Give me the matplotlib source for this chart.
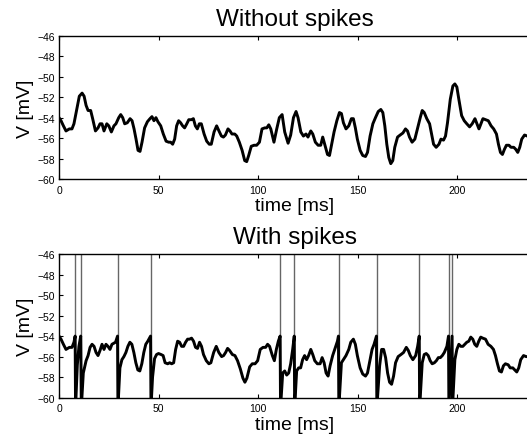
import matplotlib
matplotlib.use('Agg')
import matplotlib.pyplot as plt

plt.rcParams['font.family'] = ['Liberation Sans', 'DejaVu Sans']

# membrane potential without spiking, (time [ms], V [mV])
quiet_trace = [
    (0.0,-54.0),(1.0,-54.3),(2.2,-54.8),(3.5,-55.3),(5.2,-55.1),(6.5,-55.1),(7.5,-54.6),(8.9,-53.2),
    (10.2,-51.9),(11.6,-51.6),(12.6,-51.9),(13.6,-52.8),(14.6,-53.3),(15.9,-53.3),(16.9,-54.1),(18.3,-55.3),
    (19.6,-55.0),(20.6,-54.6),(21.6,-54.6),(22.6,-55.3),(24.0,-54.6),(25.0,-54.8),(26.3,-55.4),(27.6,-54.8),
    (28.6,-54.6),(30.0,-54.0),(31.0,-53.7),(32.0,-54.0),(33.0,-54.6),(34.3,-54.5),(35.7,-54.1),(36.7,-54.3),
    (37.7,-55.1),(38.7,-56.1),(39.7,-57.2),(40.7,-57.3),(41.7,-56.4),(43.0,-55.0),(44.4,-54.4),(45.7,-54.1),
    (46.7,-53.9),(47.7,-54.3),(48.7,-54.0),(49.7,-54.4),(51.1,-54.8),(52.4,-55.6),(53.8,-56.3),(55.1,-56.4),
    (56.1,-56.4),(57.1,-56.6),(58.1,-56.1),(59.1,-54.8),(60.1,-54.3),(61.1,-54.5),(62.1,-54.8),(63.1,-55.0),
    (64.2,-54.6),(65.2,-54.2),(66.5,-54.2),(67.5,-54.1),(68.5,-54.8),(69.5,-55.1),(70.5,-54.6),(71.5,-54.6),
    (72.9,-55.6),(74.2,-56.3),(75.5,-56.6),(76.5,-56.6),(77.9,-55.4),(79.2,-54.8),(80.6,-55.4),(81.6,-55.8),
    (82.6,-55.9),(83.6,-55.7),(84.9,-55.1),(85.9,-55.3),(86.9,-55.6),(88.3,-55.6),(89.3,-55.8),(90.6,-56.4),
    (92.0,-57.2),(93.3,-58.2),(94.3,-58.3),(95.3,-57.7),(96.6,-56.8),(98.0,-56.7),(99.3,-56.7),(100.7,-56.4),
    (102.0,-55.1),(103.4,-55.0),(104.4,-55.0),(105.4,-54.7),(106.4,-55.1),(108.0,-56.4),(109.4,-55.1),(110.7,-54.0),
    (112.1,-53.7),(113.4,-55.4),(115.1,-56.5),(116.4,-55.7),(117.8,-54.0),(119.1,-53.4),(120.1,-54.0),(121.5,-55.4),
    (122.8,-55.8),(124.1,-55.6),(125.1,-55.9),(126.5,-55.3),(127.5,-55.6),(128.8,-56.4),(130.2,-56.7),(131.5,-56.7),
    (132.5,-55.9),(133.5,-56.6),(134.9,-57.6),(135.9,-57.7),(136.9,-56.7),(138.2,-55.4),(139.6,-54.3),(140.9,-53.5),
    (141.9,-53.6),(142.9,-54.5),(144.2,-55.1),(145.6,-54.8),(146.9,-54.1),(147.9,-54.1),(148.9,-55.0),(149.9,-56.1),
    (151.3,-57.2),(152.6,-57.7),(154.0,-57.8),(155.0,-57.4),(156.3,-55.8),(157.7,-54.6),(159.0,-54.0),(160.4,-53.4),
    (161.7,-53.2),(162.7,-53.5),(163.7,-54.8),(164.7,-56.6),(165.7,-57.9),(166.7,-58.5),(167.7,-58.2),(168.7,-56.9),
    (170.1,-55.9),(171.4,-55.7),(172.8,-55.5),(174.1,-55.1),(175.1,-55.3),(176.1,-55.9),(177.4,-56.4),(178.8,-56.1),
    (180.1,-55.1),(181.5,-54.0),(182.5,-53.3),(183.5,-53.5),(184.8,-54.1),(186.2,-54.6),(187.2,-55.6),(188.2,-56.6),
    (189.5,-56.9),(190.9,-56.6),(191.9,-56.1),(193.2,-56.2),(194.2,-55.8),(195.2,-54.5),(196.6,-52.2),(197.9,-50.9),
    (198.9,-50.7),(199.9,-51.0),(200.9,-52.2),(202.3,-53.8),(203.6,-54.3),(204.9,-54.6),(206.3,-54.9),(207.6,-54.6),
    (209.0,-54.1),(210.0,-54.6),(211.0,-55.1),(212.0,-54.6),(213.0,-54.1),(214.4,-54.2),(215.7,-54.3),(217.1,-54.8),
    (218.4,-55.1),(219.8,-55.6),(220.8,-56.6),(221.8,-57.4),(222.8,-57.6),(223.8,-57.1),(224.8,-56.7),(226.1,-56.7),
    (227.1,-56.9),(228.5,-56.9),(229.5,-57.1),(230.5,-57.4),(231.5,-56.9),(232.5,-56.1),(233.9,-55.7),(235.2,-55.8),
    (237.0,-55.9),
]

# membrane potential with threshold at -54 mV and reset below the axis
spiking_trace = [
    (0.0,-54.0),(1.0,-54.3),(2.2,-54.8),(3.5,-55.3),(5.2,-55.1),(6.5,-55.1),(7.5,-54.6),(8.1,-54.0),
    (8.3,-61.0),(9.2,-56.8),(10.0,-55.0),(10.9,-54.0),
    (11.2,-61.0),(12.2,-57.6),(13.6,-56.4),(14.6,-55.9),(15.6,-55.1),(16.6,-54.8),(17.6,-55.0),(18.6,-55.6),
    (19.6,-55.9),(20.6,-55.4),(21.6,-54.8),(22.6,-55.3),(23.6,-54.8),(24.6,-55.0),(25.6,-55.3),(26.6,-54.8),
    (28.4,-54.6),(29.4,-54.0),
    (29.6,-61.0),(30.6,-57.1),(31.6,-56.3),(32.6,-56.0),(33.6,-55.6),(34.6,-55.0),(35.6,-54.6),(36.6,-54.8),
    (37.6,-55.6),(38.6,-56.6),(39.6,-57.3),(40.6,-57.4),(41.6,-56.7),(42.6,-55.6),(43.6,-54.8),(44.6,-54.5),
    (46.0,-54.0),
    (46.2,-61.0),(47.0,-58.0),(48.0,-56.2),(49.0,-55.8),(50.0,-55.7),(51.3,-55.8),(52.3,-55.9),(53.3,-56.6),
    (54.6,-56.7),(55.6,-56.6),(56.6,-56.7),(57.6,-56.6),(58.6,-55.3),(59.6,-54.5),(60.6,-54.6),(61.6,-55.0),
    (62.6,-55.0),(63.6,-54.6),(64.6,-54.3),(65.6,-54.3),(66.6,-54.2),(67.6,-54.5),(68.6,-55.1),(69.6,-55.2),
    (70.6,-54.6),(71.6,-55.0),(72.6,-55.8),(74.0,-56.4),(75.3,-56.7),(76.3,-56.6),(77.7,-55.6),(79.0,-55.0),
    (80.3,-55.6),(81.7,-56.0),(82.7,-55.9),(83.7,-55.6),(84.7,-55.2),(85.7,-55.4),(87.1,-55.8),(88.4,-55.9),
    (89.7,-56.4),(91.1,-57.2),(92.4,-58.1),(93.4,-58.5),(94.4,-58.1),(95.8,-57.0),(97.1,-56.7),(98.5,-56.7),
    (99.8,-56.4),(101.1,-55.3),(102.5,-55.1),(103.8,-55.1),(104.8,-54.8),(105.8,-55.0),(107.2,-55.9),(108.2,-56.4),
    (109.2,-55.3),(110.2,-54.5),(111.1,-54.0),
    (111.3,-61.0),(112.4,-57.6),(113.4,-57.4),(114.4,-57.8),(115.4,-57.6),(116.4,-56.7),(117.4,-55.3),(118.2,-54.0),
    (118.4,-61.0),(119.4,-57.4),(120.4,-57.1),(121.4,-57.1),(122.4,-56.3),(123.4,-55.9),(124.4,-56.3),(125.4,-55.9),
    (126.5,-55.3),(127.5,-55.8),(128.5,-56.4),(129.8,-56.7),(131.2,-56.7),(132.2,-56.1),(133.2,-56.6),(134.2,-57.6),
    (135.2,-57.9),(136.2,-56.9),(137.5,-55.9),(138.9,-55.1),(139.9,-54.5),(140.4,-54.0),
    (140.6,-61.0),(141.9,-56.6),(142.9,-56.3),(144.2,-55.9),(145.6,-55.3),(146.6,-54.6),(147.9,-54.3),(148.9,-54.8),
    (149.9,-55.9),(151.3,-57.1),(152.6,-57.7),(154.0,-57.9),(155.0,-57.6),(156.3,-56.3),(157.3,-55.3),(158.3,-54.8),
    (159.5,-54.0),
    (159.7,-61.0),(161.1,-56.9),(162.1,-55.3),(163.1,-55.3),(164.1,-56.1),(165.1,-57.6),(166.1,-58.5),(167.1,-58.7),
    (168.1,-57.9),(169.1,-56.6),(170.4,-56.0),(171.8,-55.8),(173.1,-55.6),(174.5,-55.1),(175.5,-55.4),(176.5,-55.9),
    (177.8,-56.3),(179.2,-55.9),(180.2,-55.0),(181.0,-54.0),
    (181.2,-61.0),(182.5,-56.6),(183.5,-55.8),(184.5,-55.7),(185.5,-55.9),(186.5,-56.4),(187.5,-56.7),(188.6,-56.6),
    (189.6,-56.4),(190.6,-56.1),(191.6,-56.1),(192.6,-55.9),(193.6,-55.6),(194.9,-55.0),(195.7,-54.0),
    (195.9,-61.0),(197.5,-54.0),
    (197.7,-61.0),(198.9,-56.3),(199.9,-55.3),(200.9,-54.8),(201.9,-55.0),(202.9,-55.0),(203.9,-54.8),(204.9,-54.6),
    (205.9,-54.5),(206.9,-54.1),(207.9,-54.3),(208.9,-54.8),(209.9,-55.0),(210.9,-54.5),(211.9,-54.1),(212.9,-54.2),
    (214.3,-54.3),(215.6,-54.8),(217.0,-55.0),(218.3,-55.3),(219.3,-55.9),(220.3,-56.7),(221.3,-57.4),(222.3,-57.5),
    (223.3,-56.9),(224.3,-56.7),(225.7,-56.8),(226.7,-57.1),(228.0,-57.1),(229.0,-57.3),(230.0,-57.5),(231.0,-57.1),
    (232.0,-56.3),(233.4,-55.9),(234.7,-56.0),(237.0,-56.0),
]

spike_times = [8.2, 11.1, 29.5, 46.1, 111.2, 118.3, 140.5, 159.6, 181.1, 195.8, 197.6]

titles = ['Without spikes', 'With spikes']
yticks = [-60, -58, -56, -54, -52, -50, -48, -46]
xticks = [0, 50, 100, 150, 200]


def style_axes(ax, title):
    ax.set_xlim(0, 237)
    ax.set_ylim(-60, -46)
    ax.set_xticks(xticks)
    ax.set_yticks(yticks)
    ax.tick_params(direction='in', length=3, width=0.8, labelsize=7.5, top=True, right=True)
    ax.tick_params(axis='x', pad=4)
    ax.tick_params(axis='y', pad=3)
    for s in ax.spines.values():
        s.set_linewidth(1.0)
    ax.set_xlabel('time [ms]', fontsize=14, labelpad=2)
    ax.set_ylabel('V [mV]', fontsize=14, labelpad=2)
    ax.set_title(title, fontsize=17.5, pad=8)


def main():
    fig = plt.figure(figsize=(5.27, 4.39), dpi=100)
    ax1 = fig.add_axes([0.112, 0.590, 0.895, 0.326])
    ax2 = fig.add_axes([0.112, 0.092, 0.895, 0.327])

    t1 = [p[0] for p in quiet_trace]
    v1 = [p[1] for p in quiet_trace]
    ax1.plot(t1, v1, color='black', lw=2.1, solid_joinstyle='round')
    style_axes(ax1, titles[0])

    ax2.vlines(spike_times, -70, -40, color='0.4', lw=1.0)
    t2 = [p[0] for p in spiking_trace]
    v2 = [p[1] for p in spiking_trace]
    ax2.plot(t2, v2, color='black', lw=2.1, solid_joinstyle='round')
    style_axes(ax2, titles[1])

    fig.savefig('out.png', dpi=100)


if __name__ == '__main__':
    main()
